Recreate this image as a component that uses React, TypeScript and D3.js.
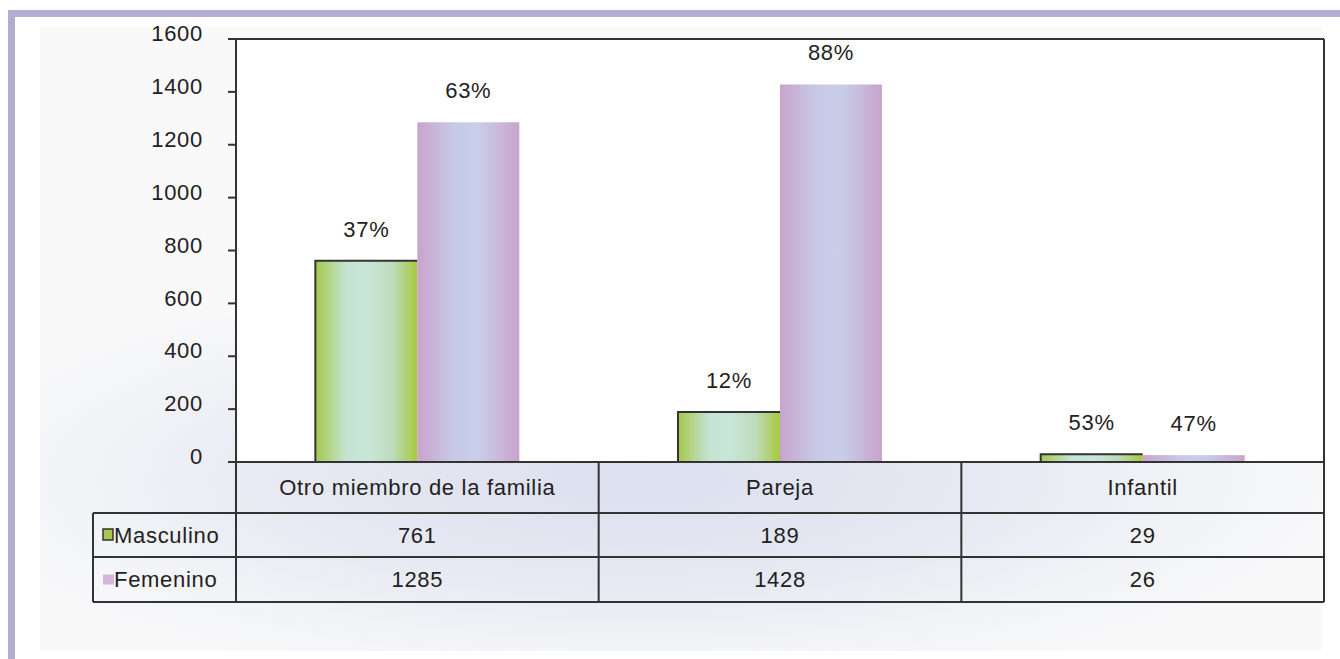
import React from "react";
import * as d3 from "d3";

const categories = ["Otro miembro de la familia", "Pareja", "Infantil"];
const seriesNames = ["Masculino", "Femenino"];
const masculino = [761, 189, 29];
const femenino = [1285, 1428, 26];
const pctMasculino = ["37%", "12%", "53%"];
const pctFemenino = ["63%", "88%", "47%"];
const yTicks = [0, 200, 400, 600, 800, 1000, 1200, 1400, 1600];

const W = 1340;
const H = 659;
const left = 236;
const right = 1324;
const top = 39;
const bottom = 462;
const row1 = 513;
const row2 = 557;
const row3 = 602;
const tableLeft = 93;
const FONT = "'Liberation Sans', Arial, sans-serif";
const FS = 22;
const LS = 0.7;

export default function App() {
  const x0 = d3.scaleBand<string>().domain(categories).range([left, right]).padding(0);
  const x1 = d3
    .scaleBand<string>()
    .domain(seriesNames)
    .range([0, x0.bandwidth()])
    .paddingInner(0)
    .paddingOuter(0.778);
  const y = d3.scaleLinear().domain([0, 1600]).range([bottom, top]);
  const values = [masculino, femenino];
  const pcts = [pctMasculino, pctFemenino];
  const fills = ["url(#gGreen)", "url(#gPink)"];
  const dark = "#333";

  return (
    <svg width={W} height={H} style={{ display: "block", position: "absolute", left: 0, top: 0 }}>
      <defs>
        <linearGradient id="gGreen" x1="0" x2="1" y1="0" y2="0">
          <stop offset="0" stopColor="#a6c84c" />
          <stop offset="0.3" stopColor="#c4e3d2" />
          <stop offset="0.5" stopColor="#c9e7d9" />
          <stop offset="0.75" stopColor="#bedbbf" />
          <stop offset="1" stopColor="#a6c93e" />
        </linearGradient>
        <linearGradient id="gPink" x1="0" x2="1" y1="0" y2="0">
          <stop offset="0" stopColor="#c9a3cc" />
          <stop offset="0.35" stopColor="#c8c9e6" />
          <stop offset="0.6" stopColor="#c8cee9" />
          <stop offset="1" stopColor="#c9a3cc" />
        </linearGradient>
        <radialGradient
          id="gBg"
          gradientUnits="userSpaceOnUse"
          cx={640}
          cy={480}
          r={720}
          gradientTransform="translate(640 480) scale(1 0.3) translate(-640 -480)"
        >
          <stop offset="0" stopColor="#dcdfee" />
          <stop offset="0.45" stopColor="#e6e8f2" />
          <stop offset="0.8" stopColor="#f3f4f7" />
          <stop offset="1" stopColor="#f9f9fa" />
        </radialGradient>
      </defs>

      <rect x={0} y={0} width={W} height={H} fill="#ffffff" />
      <rect x={40} y={27} width={1282} height={624} fill="url(#gBg)" />
      {/* purple frame */}
      <rect x={8} y={10} width={W - 8} height={7} fill="#b3aed1" />
      <rect x={8} y={10} width={7} height={H - 10} fill="#b3aed1" />

      {/* plot area */}
      <rect x={left} y={top} width={right - left} height={bottom - top} fill="#ffffff" />

      {/* bars */}
      {categories.map((c, ci) =>
        seriesNames.map((s, si) => {
          const v = values[si][ci];
          const bx = (x0(c) as number) + (x1(s) as number);
          const bw = x1.bandwidth();
          const by = y(v);
          return (
            <g key={c + s}>
              <rect x={bx} y={by} width={bw} height={bottom - by} fill={fills[si]} />
              {si === 0 && (
                <path
                  d={`M${bx},${bottom} V${by} H${bx + bw}`}
                  fill="none"
                  stroke={dark}
                  strokeWidth={2}
                />
              )}
              <text
                x={bx + bw / 2}
                y={by - 24}
                textAnchor="middle"
                fontFamily={FONT}
                fontSize={FS}
                letterSpacing={LS}
                fill="#222"
              >
                {pcts[si][ci]}
              </text>
            </g>
          );
        })
      )}

      {/* y axis */}
      <line x1={left} x2={left} y1={top} y2={bottom} stroke={dark} strokeWidth={2} />
      {yTicks.map((t) => (
        <g key={t}>
          <line x1={left - 8} x2={left} y1={y(t)} y2={y(t)} stroke={dark} strokeWidth={2} />
          <text
            x={203}
            y={y(t)}
            dy="0.1em"
            textAnchor="end"
            fontFamily={FONT}
            fontSize={FS}
            letterSpacing={LS}
            fill="#222"
          >
            {t}
          </text>
        </g>
      ))}
      {/* plot frame top and right */}
      <line x1={left} x2={right} y1={top} y2={top} stroke={dark} strokeWidth={2} />
      <line x1={right} x2={right} y1={top} y2={row3} stroke={dark} strokeWidth={2} />

      {/* data table */}
      <g stroke={dark} strokeWidth={2}>
        <line x1={left - 8} x2={right} y1={bottom} y2={bottom} />
        <line x1={tableLeft} x2={right} y1={row1} y2={row1} />
        <line x1={tableLeft} x2={right} y1={row2} y2={row2} />
        <line x1={tableLeft} x2={right} y1={row3} y2={row3} />
        <line x1={tableLeft} x2={tableLeft} y1={row1} y2={row3} />
        {[0, 1, 2, 3].map((i) => {
          const xx = i < 3 ? (x0(categories[i]) as number) : right;
          return <line key={i} x1={xx} x2={xx} y1={bottom} y2={row3} />;
        })}
      </g>
      {categories.map((c, ci) => {
        const cx = (x0(c) as number) + x0.bandwidth() / 2;
        return (
          <g key={c} fontFamily={FONT} fontSize={FS} letterSpacing={LS} fill="#222" textAnchor="middle">
            <text x={cx} y={(bottom + row1) / 2} dy="0.35em">
              {c}
            </text>
            <text x={cx} y={(row1 + row2) / 2} dy="0.35em">
              {masculino[ci]}
            </text>
            <text x={cx} y={(row2 + row3) / 2} dy="0.35em">
              {femenino[ci]}
            </text>
          </g>
        );
      })}
      {/* legend keys */}
      <rect x={103} y={(row1 + row2) / 2 - 6} width={10} height={11} fill="#a6c84c" stroke={dark} strokeWidth={1.5} />
      <rect x={103} y={(row2 + row3) / 2 - 5} width={11} height={10} fill="#d2b6dc" />
      <g fontFamily={FONT} fontSize={FS} letterSpacing={LS} fill="#222">
        <text x={114} y={(row1 + row2) / 2} dy="0.35em">
          {seriesNames[0]}
        </text>
        <text x={114} y={(row2 + row3) / 2} dy="0.35em">
          {seriesNames[1]}
        </text>
      </g>
    </svg>
  );
}
